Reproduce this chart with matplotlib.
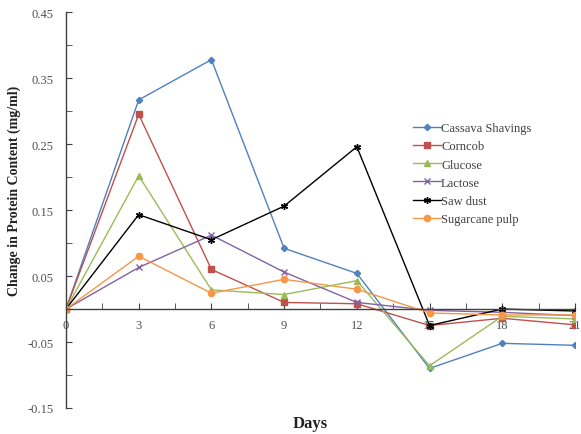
import numpy as np
import matplotlib
matplotlib.use("Agg")
import matplotlib.pyplot as plt

# sampling days
days = [0, 3, 6, 9, 12, 15, 18, 21]

# change in protein content (mg/ml) for each substrate
cassava = [0, 0.317, 0.378, 0.092, 0.054, -0.090, -0.052, -0.055]
corncob = [0, 0.295, 0.060, 0.010, 0.008, -0.025, -0.014, -0.024]
glucose = [0, 0.202, 0.029, 0.022, 0.043, -0.086, -0.011, -0.015]
lactose = [0, 0.063, 0.112, 0.056, 0.010, -0.002, -0.005, -0.010]
sawdust = [0, 0.143, 0.105, 0.156, 0.246, -0.025, 0.000, -0.003]
sugarcane = [0, 0.080, 0.024, 0.045, 0.030, -0.006, -0.009, -0.009]

names = ["Cassava Shavings", "Corncob", "Glucose", "Lactose", "Saw dust", "Sugarcane pulp"]
series = [cassava, corncob, glucose, lactose, sawdust, sugarcane]
colors = ["#4F81BD", "#C0504D", "#9BBB59", "#8064A2", "#000000", "#F79646"]
markers = ["D", "s", "^", "x", (6, 2, 0), "o"]
msizes = [3.2, 4.5, 4.5, 5, 5, 4.5]

xticks = [0, 3, 6, 9, 12, 15, 18, 21]
yticks = [-0.15, -0.05, 0.05, 0.15, 0.25, 0.35, 0.45]

plt.rcParams['font.family'] = ['Liberation Serif', 'DejaVu Serif']

fig = plt.figure(figsize=(5.81, 4.35), dpi=100)
ax = fig.add_axes([0.1136, 0.0598, 0.876, 0.910])

for vals, name, c, mk, ms in zip(series, names, colors, markers, msizes):
    ax.plot(days, vals, color=c, marker=mk, markersize=ms, linewidth=1.0,
            markeredgewidth=1.0, label=name)

ax.set_xlim(0, 21)
ax.set_ylim(-0.15, 0.45)

# axis lines: y at day 0, x crossing at zero change
ax.spines['top'].set_visible(False)
ax.spines['right'].set_visible(False)
ax.spines['bottom'].set_position(('data', 0))
for s in ['left', 'bottom']:
    ax.spines[s].set_color('#404040')
    ax.spines[s].set_linewidth(1.0)

ax.set_xticks(xticks)
ax.set_xticks(np.arange(0, 21.1, 1.5), minor=True)
ax.set_yticks(yticks)
ax.set_yticklabels(["%.2f" % v for v in yticks])
ax.set_yticks([-0.1, 0.0, 0.1, 0.2, 0.3, 0.4], minor=True)

ax.tick_params(axis='both', which='both', direction='in', length=4,
               color='#404040', labelcolor='#505050', labelsize=9)
ax.tick_params(axis='x', pad=7)
ax.tick_params(axis='y', pad=9)

fig.text(0.024, 0.561, "Change in Protein Content (mg/ml)", rotation=90,
         ha='center', va='center', fontsize=10, fontweight='bold', color='#222222')
fig.text(0.5336, 0.025, "Days", ha='center', va='center', fontsize=12,
         fontweight='bold', color='#222222')

leg = ax.legend(loc='upper left', bbox_to_anchor=(0.672, 0.735), frameon=False,
                fontsize=9, handlelength=2.2, handletextpad=0.05,
                labelspacing=0.5, borderaxespad=0)
for t in leg.get_texts():
    t.set_color('#404040')

fig.savefig("out.png", dpi=100)
